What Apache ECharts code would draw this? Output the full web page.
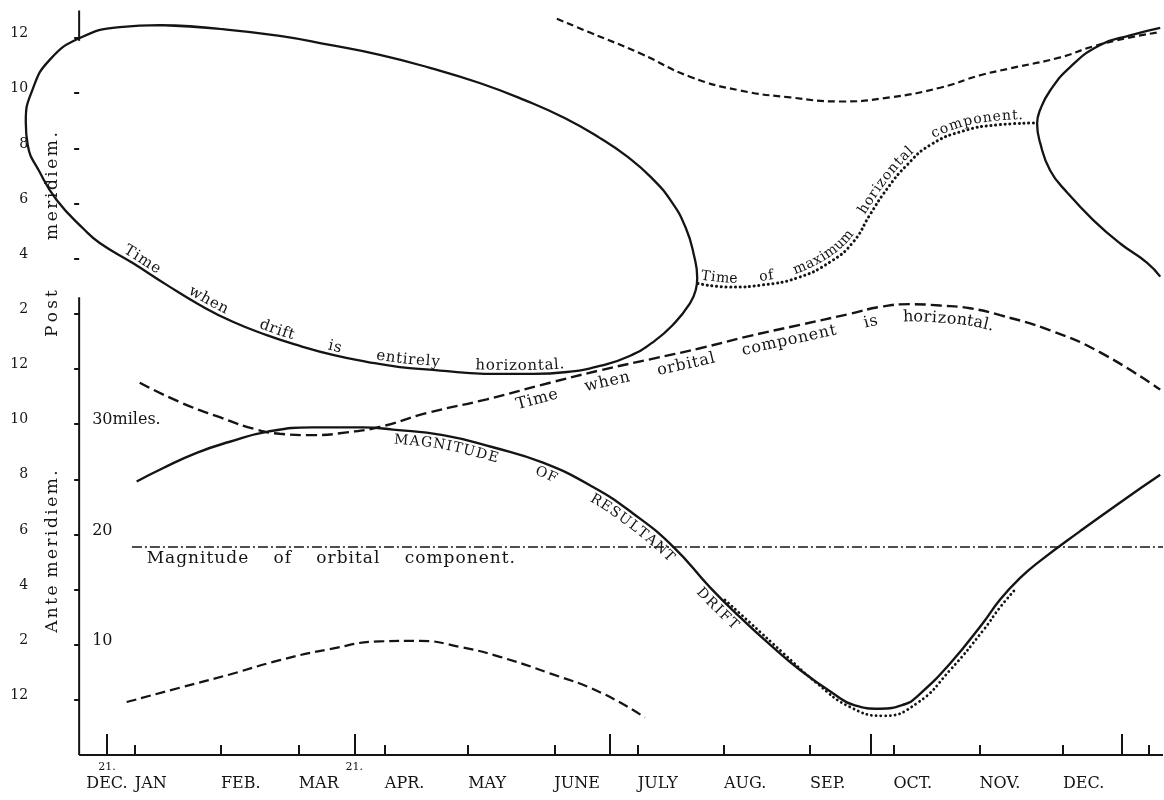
<!DOCTYPE html>
<html>
<head>
<meta charset="utf-8">
<script src="https://cdn.jsdelivr.net/npm/echarts@6/dist/echarts.min.js"></script>
<style>
html,body{margin:0;padding:0;background:#fff;}
#chart{width:1164px;height:800px;}
</style>
</head>
<body>
<div id="chart"></div>
<script>
// ---------------- DATA ----------------
// x = days counted from 1 January; hour values on a 24 h clock (0 = midnight, 12 = noon, 24 = next midnight)
// magnitudes in miles
const monthTickDays = [0, 31, 59, 90, 120, 151, 181, 212, 243, 273, 304, 334, 365];
const monthLabels   = ['JAN', 'FEB.', 'MAR', 'APR.', 'MAY', 'JUNE', 'JULY', 'AUG.', 'SEP.', 'OCT.', 'NOV.', 'DEC.', ''];
const seasonTickDays = [-10, 79, 171, 265, 355];
const seasonDayLabels = ['21.', '21.', '', '', ''];
const seasonMonthLabels = ['DEC.', '', '', '', ''];
const hourTicks = [0, 2, 4, 6, 8, 10, 12, 14, 16, 18, 20, 22, 24];
const hourTickLabels = ['12', '2', '4', '6', '8', '10', '12', '2', '4', '6', '8', '10', '12'];
const mileTicks = [10, 20, 30];
const mileTickLabels = ['10', '20', '30miles.'];
const hourAxisSegments = [[25, 23.9], [14.6, -2]];
const axisStartDay = -20, axisEndDay = 370;

// Time when drift is entirely horizontal (closed loop) [day, hour]
const driftHorizontalLoop = [
  [30.6,24.33],[9.0,24.47],[-5.4,24.4],[-19.8,24.0],[-30.6,23.21],[-36.7,22.15],[-39.2,20.96],
  [-38.5,20.12],[-34.2,19.14],[-28.1,18.13],[-18.0,17.04],[-12.6,16.57],[-0.7,15.84],[11.5,15.05],
  [23.4,14.32],[35.3,13.71],[47.5,13.23],[59.4,12.84],[71.3,12.51],[83.5,12.26],[95.4,12.07],
  [107.3,11.97],[119.5,11.86],[131.4,11.82],[143.3,11.82],[155.5,11.89],[167.3,12.11],[178.1,12.47],
  [187.1,13.02],[194.3,13.67],[199.4,14.32],[201.9,14.87],[202.4,15.3],[201.2,16.13],[198.3,17.11],
  [193.2,18.06],[186.0,18.93],[177.4,19.69],[167.3,20.38],[154.7,21.10],[140.3,21.75],[124.1,22.37],
  [106.2,22.92],[88.2,23.39],[70.2,23.75],[52.2,24.08],[30.6,24.33],[9.0,24.47]
];
// same loop, following December
const driftHorizontalLoopNext = [
  [369.0,24.37],[358.2,24.1],[347.4,23.75],[336.6,22.95],[329.4,22.1],[325.8,21.4],[324.7,20.9],
  [325.8,20.2],[329.4,19.2],[335.5,18.4],[344.9,17.4],[354.6,16.55],[364.3,15.85],[369.0,15.35]
];
// Time when orbital component is horizontal (upper branch) [day, hour]
const orbitalHorizontalUpper = [
  [151.9,24.7],[163.8,24.2],[181.8,23.45],[199.8,22.6],[217.8,22.1],[235.8,21.85],[253.8,21.7],
  [271.8,21.85],[289.8,22.2],[304.2,22.65],[315.0,22.9],[333.0,23.3],[344.9,23.7],[357.1,24.0],[367.9,24.2]
];
// Time when orbital component is horizontal (lower branch) [day, hour]
const orbitalHorizontalLower = [
  [1.8,11.5],[16.2,10.8],[30.6,10.25],[43.9,9.8],[52.2,9.65],[64.1,9.6],[76.3,9.7],[88.2,9.9],
  [105.1,10.4],[126.7,10.9],[149.4,11.5],[167.4,11.95],[185.4,12.35],[203.4,12.75],[221.4,13.2],
  [239.4,13.6],[257.4,14.0],[268.2,14.25],[279.0,14.35],[289.8,14.3],[300.6,14.2],[311.4,13.95],
  [329.4,13.4],[347.4,12.6],[369.0,11.25]
];
// Time of maximum horizontal component [day, hour]
const maxHorizontalTime = [
  [202.7,15.1],[214.2,14.97],[226.1,15.05],[238.3,15.3],[250.2,15.88],[258.5,16.6],[264.6,17.6],
  [270.7,18.53],[277.9,19.4],[286.2,20.12],[298.1,20.63],[310.3,20.85],[324.0,20.92]
];
// Magnitude of resultant drift [day, miles]
const resultantMagnitude = [
  [0.7,24.8],[10.1,26.0],[22.3,27.4],[34.2,28.4],[47.5,29.3],[64.1,29.7],[82.1,29.7],[92.9,29.5],
  [110.9,29.0],[128.9,27.9],[146.9,26.5],[164.9,24.3],[179.3,21.9],[193.7,18.9],[207.0,15.2],
  [217.8,12.5],[228.6,10.0],[239.4,7.7],[251.2,5.6],[259.1,4.5],[268.1,4.2],[277.1,4.6],[281.5,5.3],
  [293.4,8.3],[305.3,12.0],[311.4,14.1],[318.6,16.05],[325.8,17.6],[340.2,20.3],[354.6,22.9],[369.0,25.4]
];
// dotted companion of the resultant curve [day, miles]
const resultantMagnitudeDotted = [
  [212.4,14.05],[221.4,12.0],[233.3,9.25],[245.5,6.5],[257.4,4.35],[269.3,3.55],
  [281.5,4.7],[293.4,7.7],[305.3,11.3],[311.4,13.4],[316.8,15.0]
];
// Magnitude of orbital component [day, miles]
const orbitalMagnitude = [[-1, 18.86], [370, 18.86]];
// lower dashed magnitude curve [day, miles]
const lowerDashedMagnitude = [
  [-2.9,4.8],[16.2,6.1],[34.2,7.3],[52.2,8.6],[70.2,9.6],[88.2,10.3],[102.6,10.35],[117.0,9.8],
  [131.4,8.9],[149.4,7.4],[167.4,5.7],[183.6,3.4]
];

// ---------------- CHART ----------------
const INK = '#141414';
const FONT = '"DejaVu Serif", "Liberation Serif", serif';
const X_MIN = -42, X_MAX = 370;
const GRID = {left: 18, right: 1, top: 10.5, bottom: 45};
const pxPerDay = (1164 - GRID.left - GRID.right) / (X_MAX - X_MIN);
const yAxisOffset = -(axisStartDay - X_MIN) * pxPerDay;   // moves the y axes onto day = axisStartDay

const chart = echarts.init(document.getElementById('chart'), null, {renderer: 'canvas'});

function line(name, data, yAxisIndex, style, extra) {
  return Object.assign({
    name, type: 'line', data, xAxisIndex: 0, yAxisIndex,
    showSymbol: false, symbol: 'none', smooth: 0.5, silent: true,
    clip: false, z: 3,
    lineStyle: Object.assign({color: INK, width: 2.3}, style)
  }, extra || {});
}

const series = [
  line('loop', driftHorizontalLoop, 0, {type: 'solid', width: 2.3}),
  line('loopNext', driftHorizontalLoopNext, 0, {type: 'solid', width: 2.3}),
  line('orbitalUpper', orbitalHorizontalUpper, 0, {type: [7, 4], width: 2.2}),
  line('orbitalLower', orbitalHorizontalLower, 0, {type: [11, 5], width: 2.4}),
  line('maxH', maxHorizontalTime, 0, {type: [0.1, 4.6], cap: 'round', width: 3}),
  line('resultant', resultantMagnitude, 1, {type: 'solid', width: 2.4}),
  line('resultantDotted', resultantMagnitudeDotted, 1, {type: [0.1, 4.6], cap: 'round', width: 2.8}),
  line('orbitalMag', orbitalMagnitude, 1, {type: [10, 3, 2, 3], width: 1.6}, {smooth: false}),
  line('lowerMag', lowerDashedMagnitude, 1, {type: [10, 5], width: 2.2})
];
hourAxisSegments.forEach((seg, i) => {
  series.push(line('hourAxis' + i, [[axisStartDay, seg[0]], [axisStartDay, seg[1]]], 0, {width: 2}, {smooth: false}));
});
series.push(line('dayAxis', [[axisStartDay, -2], [axisEndDay, -2]], 0, {width: 2}, {smooth: false}));

const option = {
  animation: false,
  backgroundColor: '#ffffff',
  grid: Object.assign({containLabel: false}, GRID),
  xAxis: [
    {
      type: 'value', min: X_MIN, max: X_MAX, position: 'bottom',
      axisLine: {show: false, onZero: false},
      axisTick: {show: true, inside: true, length: 10, customValues: monthTickDays, lineStyle: {color: INK, width: 2}},
      axisLabel: {
        customValues: monthTickDays.slice(0, 12),
        formatter: v => monthLabels[monthTickDays.indexOf(v)],
        align: 'left', margin: 21, fontFamily: FONT, fontSize: 16, color: INK
      },
      splitLine: {show: false}
    },
    {
      type: 'value', min: X_MIN, max: X_MAX, position: 'bottom',
      axisLine: {show: false, onZero: false},
      axisTick: {show: true, inside: true, length: 21, customValues: seasonTickDays, lineStyle: {color: INK, width: 2}},
      axisLabel: {
        customValues: seasonTickDays,
        formatter: v => {
          const i = seasonTickDays.indexOf(v);
          let s = '';
          if (seasonDayLabels[i]) s += '{s|' + seasonDayLabels[i] + '}';
          if (seasonMonthLabels[i]) s += '\n{m|' + seasonMonthLabels[i] + '}';
          return s;
        },
        align: 'center', margin: 5, color: INK,
        rich: {
          s: {fontFamily: FONT, fontSize: 11, lineHeight: 14, color: INK, align: 'center'},
          m: {fontFamily: FONT, fontSize: 16, lineHeight: 20, color: INK, align: 'center'}
        }
      },
      splitLine: {show: false}
    }
  ],
  yAxis: [
    {
      type: 'value', min: -2, max: 25, position: 'left', offset: yAxisOffset,
      axisLine: {show: false, onZero: false},
      axisTick: {show: true, length: 5, customValues: hourTicks, lineStyle: {color: INK, width: 2}},
      axisLabel: {
        customValues: hourTicks,
        formatter: v => hourTickLabels[hourTicks.indexOf(v)],
        margin: 51, align: 'right', verticalAlign: 'bottom', lineHeight: 9,
        fontFamily: FONT, fontSize: 14, color: INK
      },
      splitLine: {show: false}
    },
    {
      type: 'value', min: 0, max: 67.5, position: 'left', offset: yAxisOffset,
      axisLine: {show: false, onZero: false},
      axisTick: {show: false},
      axisLabel: {
        inside: true, customValues: mileTicks,
        formatter: v => mileTickLabels[mileTicks.indexOf(v)],
        margin: 13, align: 'left', verticalAlign: 'bottom', lineHeight: 8,
        fontFamily: FONT, fontSize: 16, color: INK
      },
      splitLine: {show: false}
    }
  ],
  series
};
chart.setOption(option);

// ---------------- TEXT ALONG CURVES ----------------
const mctx = document.createElement('canvas').getContext('2d');
function textW(str, font) { mctx.font = font; return mctx.measureText(str).width; }

function densify(pts, n) {
  const out = [];
  for (let i = 0; i < pts.length - 1; i++) {
    const p0 = pts[Math.max(i - 1, 0)], p1 = pts[i], p2 = pts[i + 1], p3 = pts[Math.min(i + 2, pts.length - 1)];
    for (let k = 0; k < n; k++) {
      const t = k / n, t2 = t * t, t3 = t2 * t;
      const f = (a, b, c, d) => 0.5 * (2 * b + (-a + c) * t + (2 * a - 5 * b + 4 * c - d) * t2 + (-a + 3 * b - 3 * c + d) * t3);
      out.push([f(p0[0], p1[0], p2[0], p3[0]), f(p0[1], p1[1], p2[1], p3[1])]);
    }
  }
  out.push(pts[pts.length - 1]);
  return out;
}
function arcOf(pts) {
  const s = [0];
  for (let i = 1; i < pts.length; i++) s.push(s[i - 1] + Math.hypot(pts[i][0] - pts[i - 1][0], pts[i][1] - pts[i - 1][1]));
  return s;
}
function pointAt(pts, arc, s) {
  let i = 1;
  while (i < arc.length - 1 && arc[i] < s) i++;
  const a = pts[i - 1], b = pts[i];
  const seg = arc[i] - arc[i - 1] || 1;
  const t = Math.max(0, Math.min(1, (s - arc[i - 1]) / seg));
  return [a[0] + (b[0] - a[0]) * t, a[1] + (b[1] - a[1]) * t];
}
function angleAt(pts, arc, s) {
  const a = pointAt(pts, arc, Math.max(0, s - 4));
  const b = pointAt(pts, arc, Math.min(arc[arc.length - 1], s + 4));
  return Math.atan2(b[1] - a[1], b[0] - a[0]);
}
function arcAtX(pts, arc, x) {
  for (let i = 1; i < pts.length; i++) {
    const a = pts[i - 1][0], b = pts[i][0];
    if ((x - a) * (x - b) <= 0 && a !== b) {
      return arc[i - 1] + (arc[i] - arc[i - 1]) * (x - a) / (b - a);
    }
  }
  return x < pts[0][0] ? 0 : arc[arc.length - 1];
}
// place text character by character between arc positions s0..s1, justified
function layoutText(pts, arc, text, s0, s1, o) {
  const font = o.size + 'px ' + FONT;
  const chars = Array.from(text);
  const sp = o.spacing || 0;
  const ws = chars.map(c => c === ' ' ? textW(' ', font) : textW(c, font) + sp);
  const total = ws.reduce((a, b) => a + b, 0) - sp;
  const nSp = chars.filter(c => c === ' ').length;
  const L = s1 - s0;
  let gapExtra = 0, charExtra = 0;
  if (o.mode === 'chars') charExtra = (L - total) / Math.max(1, chars.length - 1);
  else gapExtra = nSp ? (L - total) / nSp : 0;
  const els = [];
  let cur = s0;
  chars.forEach((c, i) => {
    if (c !== ' ') {
      const gw = ws[i] - sp;
      const mid = cur + gw / 2;
      const p = pointAt(pts, arc, mid);
      const ang = angleAt(pts, arc, mid);
      const nx = Math.sin(ang), ny = -Math.cos(ang);
      const sign = o.side === 'above' ? 1 : (o.side === 'below' ? -1 : 0);
      els.push({
        type: 'text', silent: true, z: 10,
        x: p[0] + nx * o.offset * sign, y: p[1] + ny * o.offset * sign,
        rotation: -ang,
        style: {
          text: c, font: font, fill: INK, align: 'center',
          verticalAlign: o.side === 'above' ? 'bottom' : (o.side === 'below' ? 'top' : 'middle')
        }
      });
    }
    cur += ws[i] + (c === ' ' ? gapExtra : charExtra);
  });
  return els;
}

const seriesIndex = {};
series.forEach((s, i) => { seriesIndex[s.name] = i; });
function seriesPixels(name, from, to) {
  const si = seriesIndex[name];
  const data = series[si].data.slice(from || 0, to == null ? undefined : to + 1);
  return data.map(p => chart.convertToPixel({seriesIndex: si}, p));
}

const curveLabels = [
  {series: 'loop', from: 10, to: 28, text: 'Time when drift is entirely horizontal.', day0: -5, day1: 154.8, side: 'above', offset: 0.5, size: 15, spacing: 0.8},
  {series: 'orbitalLower', text: 'Time when orbital component is horizontal.', day0: 136.1, day1: 310.3, side: 'below', offset: 5, size: 16, spacing: 0.8},
  {series: 'maxH', text: 'Time of maximum horizontal component.', day0: 203.4, day1: 319.7, side: 'above', offset: 1, size: 14, spacing: 0.8},
  {series: 'resultant', text: 'MAGNITUDE OF RESULTANT DRIFT', day0: 93.6, day1: 218.9, side: 'below', offset: 3, size: 14, spacing: 1.5},
  {series: 'orbitalMag', text: 'Magnitude of orbital component.', day0: 4.3, day1: 136.8, side: 'below', offset: 3, size: 17, spacing: 1}
];
const sideLabels = [
  {text: 'Post', hour0: 13.16, hour1: 14.86},
  {text: 'meridiem.', hour0: 16.68, hour1: 20.59},
  {text: 'Ante meridiem.', hour0: 2.43, hour1: 8.41}
];

const elements = [];
curveLabels.forEach(cl => {
  const pts = densify(seriesPixels(cl.series, cl.from, cl.to), 16);
  const arc = arcOf(pts);
  const x0 = chart.convertToPixel({xAxisIndex: 0}, cl.day0);
  const x1 = chart.convertToPixel({xAxisIndex: 0}, cl.day1);
  elements.push(...layoutText(pts, arc, cl.text, arcAtX(pts, arc, x0), arcAtX(pts, arc, x1), cl));
});
const axisX = chart.convertToPixel({xAxisIndex: 0}, axisStartDay);
sideLabels.forEach(sl => {
  const yb = chart.convertToPixel({yAxisIndex: 0}, sl.hour0);
  const yt = chart.convertToPixel({yAxisIndex: 0}, sl.hour1);
  const pts = [[axisX - 27, yb], [axisX - 27, yt]];
  const arc = arcOf(pts);
  elements.push(...layoutText(pts, arc, sl.text, 0, arc[1], {side: 'middle', offset: 0, size: 17, spacing: 0, mode: 'chars'}));
});
chart.setOption({graphic: {elements}});
</script>
</body>
</html>
